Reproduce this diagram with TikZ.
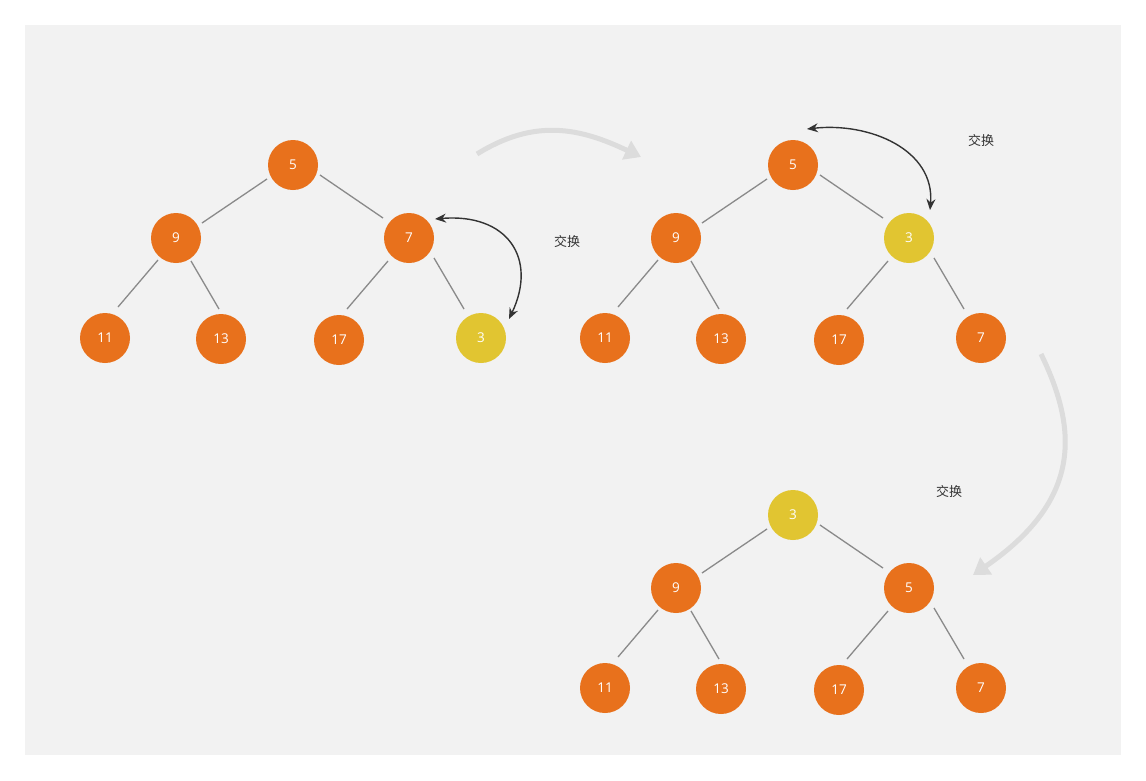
\documentclass[tikz,border=0pt]{standalone}
\usepackage{fontspec}
\setmainfont{Open Sans}
\newfontfamily\cjk{Noto Sans CJK SC}
\usetikzlibrary{arrows.meta,calc}
\definecolor{orng}{HTML}{E8711C}
\definecolor{yelw}{HTML}{E1C531}
\definecolor{panel}{HTML}{F2F2F2}
\definecolor{edgegray}{HTML}{8A8A8A}
\definecolor{bigarrow}{HTML}{DCDCDC}
\definecolor{txt}{HTML}{333333}
\begin{document}
\begin{tikzpicture}[x=1pt,y=-1pt,
  nd/.style={circle,fill=orng,draw=none,minimum size=50pt,inner sep=0pt,text=white,font=\fontsize{13.5}{15}\selectfont},
  ndy/.style={nd,fill=yelw},
  edge/.style={draw=edgegray,line width=1.3pt},
  swap/.style={draw=txt,line width=1.4pt,{Stealth[length=11pt,width=9pt]}-{Stealth[length=11pt,width=9pt]}},
  flow/.style={draw=bigarrow,line width=5pt,-{Triangle[length=16pt,width=20pt]}},
  lbl/.style={text=txt,font=\cjk\fontsize{13}{15}\selectfont}]
\useasboundingbox (0,0) rectangle (1146,780);
\fill[white] (0,0) rectangle (1146,780);
\fill[panel] (25,25) rectangle (1121,755);

% tree 1
\node[nd] (a1) at (293,165) {5};
\node[nd] (a2) at (176,238) {9};
\node[nd] (a3) at (409,238) {7};
\node[nd] (a4) at (105,338) {11};
\node[nd] (a5) at (221,339) {13};
\node[nd] (a6) at (339,340) {17};
\node[ndy] (a7) at (481,338) {3};
\draw[edge] ($(a1)+(-26,14)$) -- ($(a2)+(26,-15)$);
\draw[edge] ($(a1)+(27,10)$) -- ($(a3)+(-26,-20)$);
\draw[edge] ($(a2)+(-18,22)$) -- ($(a4)+(13,-31)$);
\draw[edge] ($(a2)+(15,23)$) -- ($(a5)+(-2,-30)$);
\draw[edge] ($(a3)+(-21,23)$) -- ($(a6)+(8,-31)$);
\draw[edge] ($(a3)+(25,20)$) -- ($(a7)+(-17,-29)$);
\coordinate (s1a) at ($(a3)+(26,-19)$);
\coordinate (s1b) at ($(a7)+(28,-19)$);
\draw[swap] (s1a) .. controls (507,213) and (538,258) .. (s1b);
\node[lbl] (l1) at (567,242) {交换};

% tree 2
\node[nd] (b1) at (793,165) {5};
\node[nd] (b2) at (676,238) {9};
\node[ndy] (b3) at (909,238) {3};
\node[nd] (b4) at (605,338) {11};
\node[nd] (b5) at (721,339) {13};
\node[nd] (b6) at (839,340) {17};
\node[nd] (b7) at (981,338) {7};
\draw[edge] ($(b1)+(-26,14)$) -- ($(b2)+(26,-15)$);
\draw[edge] ($(b1)+(27,10)$) -- ($(b3)+(-26,-20)$);
\draw[edge] ($(b2)+(-18,22)$) -- ($(b4)+(13,-31)$);
\draw[edge] ($(b2)+(15,23)$) -- ($(b5)+(-2,-30)$);
\draw[edge] ($(b3)+(-21,23)$) -- ($(b6)+(8,-31)$);
\draw[edge] ($(b3)+(25,20)$) -- ($(b7)+(-17,-29)$);
\coordinate (s2a) at ($(b1)+(14,-36)$);
\coordinate (s2b) at ($(b3)+(21,-28)$);
\draw[swap] (s2a) .. controls (870,122) and (935,150) .. (s2b);
\node[lbl] (l2) at (981,141) {交换};

% tree 3
\node[ndy] (c1) at (793,515) {3};
\node[nd] (c2) at (676,588) {9};
\node[nd] (c3) at (909,588) {5};
\node[nd] (c4) at (605,688) {11};
\node[nd] (c5) at (721,689) {13};
\node[nd] (c6) at (839,690) {17};
\node[nd] (c7) at (981,688) {7};
\draw[edge] ($(c1)+(-26,14)$) -- ($(c2)+(26,-15)$);
\draw[edge] ($(c1)+(27,10)$) -- ($(c3)+(-26,-20)$);
\draw[edge] ($(c2)+(-18,22)$) -- ($(c4)+(13,-31)$);
\draw[edge] ($(c2)+(15,23)$) -- ($(c5)+(-2,-30)$);
\draw[edge] ($(c3)+(-21,23)$) -- ($(c6)+(8,-31)$);
\draw[edge] ($(c3)+(25,20)$) -- ($(c7)+(-17,-29)$);
\node[lbl] (l3) at (949,492) {交换};

% flow arrows
\coordinate (f1s) at (477,154);
\coordinate (f1e) at (641,157);
\draw[flow] (f1s) .. controls (535,118) and (580,128) .. (f1e);
\coordinate (f2s) at (1041,354);
\coordinate (f2e) at (973,575);
\draw[flow] (f2s) .. controls (1078,430) and (1082,500) .. (f2e);
\end{tikzpicture}
\end{document}
